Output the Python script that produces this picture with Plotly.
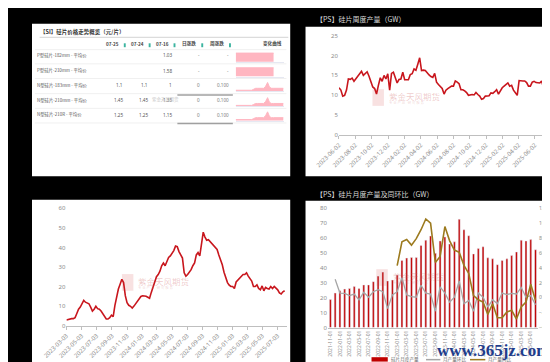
import plotly.graph_objects as go
import pandas as pd

W, H = 550, 362
def fx(p): return p / W
def fy(p): return 1 - p / H

# ---------------- data ----------------
# table: silicon wafer price overview
tbl_title = "【SI】硅片价格走势概览（元/片）"
tbl_headers = ["07-25", "07-24", "07-16", "日涨跌", "周涨跌", "变化曲线"]
tbl_rows = ["P型硅片-182mm - 平均价", "P型硅片-210mm - 平均价", "N型硅片-183mm - 平均价",
            "N型硅片-210mm - 平均价", "N型硅片-210R - 平均价"]
price_0725 = ["", "", "1.1", "1.45", "1.25"]
price_0724 = ["", "", "1.1", "1.45", "1.25"]
price_0716 = ["1.03", "1.58", "1", "1.35", "1.15"]
day_chg = ["-", "-", "0", "0", "0"]
week_chg = ["-", "-", "0.100", "0.100", "0.100"]

spark_p182 = [1.03, 1.03, 1.03, 1.03, 1.03, 1.03, 1.03, 1.03, 1.03, 1.03,
              1.03, 1.03, 1.03, 1.03, 1.03, 1.03, 1.03, 1.03, 1.03, 1.03]
spark_p210 = [1.58, 1.58, 1.58, 1.58, 1.58, 1.58, 1.58, 1.58, 1.58, 1.58,
              1.58, 1.58, 1.58, 1.58, 1.58, 1.58, 1.58, 1.58, 1.58, 1.58]
spark_n183 = [0.90, 0.90, 0.90, 0.90, 0.90, 0.90, 0.90, 0.90, 0.90, 0.95, 1.00, 1.00, 1.00,
              1.00, 1.00, 1.10, 1.30, 1.05, 1.00, 1.00, 1.00, 1.00, 1.00, 1.00, 1.00]
spark_n210 = [1.25, 1.25, 1.25, 1.25, 1.25, 1.25, 1.25, 1.25, 1.25, 1.30, 1.35, 1.35, 1.35,
              1.35, 1.35, 1.45, 1.65, 1.40, 1.35, 1.35, 1.35, 1.35, 1.35, 1.35, 1.35]
spark_n210r = [1.05, 1.05, 1.05, 1.05, 1.05, 1.05, 1.05, 1.05, 1.05, 1.10, 1.15, 1.15, 1.15,
               1.15, 1.15, 1.25, 1.45, 1.20, 1.15, 1.15, 1.15, 1.15, 1.15, 1.15, 1.15]
spark_ranges = [[0, 1.32], [0, 2.03], [0.85, 1.43], [1.20, 1.78], [1.00, 1.58]]

# weekly wafer output (GW), weekly from 2023-06-02
weekly_title = "【PS】硅片周度产量（GW）"
weekly_start = "2023-06-02"
weekly_output = [11.9, 11.3, 9.8, 10, 11.3, 14.1, 14, 14.3, 13.5, 14.1, 14.7, 15.1, 16, 15,
                 15.6, 15.9, 14.8, 13.3, 12.1, 11.7, 10.3, 12.5, 14.4, 13.5, 15, 14.1, 15.4,
                 11.3, 15.5, 15.8, 14.1, 13.1, 14, 14.1, 15.8, 13.9, 13.9, 13.9, 15.2, 15.4,
                 16.6, 16.3, 17.8, 19.4, 16.2, 16.3, 16.2, 15.5, 15.1, 14.7, 14.5, 15.5, 13.3,
                 12.7, 12.3, 11.7, 10.3, 11.3, 11.7, 12.1, 12.3, 12.3, 13.6, 13.3, 12.9, 11.4,
                 11.4, 11.1, 10.7, 10, 10.1, 10.2, 10.1, 10.7, 10.2, 9.8, 9, 9.2, 9.8, 9.8,
                 9.9, 10.6, 10.5, 10.9, 11.4, 10.3, 11.3, 11.9, 12.3, 12.7, 13.1, 12.3, 12.5,
                 11.3, 10.6, 10, 13.7, 13.6, 13.6, 13.6, 13.2, 12.3, 12.3, 13.3, 13.5, 13.2,
                 13.2, 13.1, 13.6, 11.9, 11.5, 11.3, 11.1]
weekly_ticks = ["2023-06-02", "2023-08-02", "2023-10-02", "2023-12-02", "2024-02-02",
                "2024-04-02", "2024-06-02", "2024-08-02", "2024-10-02", "2024-12-02",
                "2025-02-02", "2025-04-02", "2025-06-02"]

# weekly series, bottom-left, weekly from 2023-03-03
bl_start = "2023-03-03"
bl_values = [3, 3.2, 3.7, 3.7, 3.7, 4.2, 6.3, 8.5, 9.6, 11.8, 13, 12.1, 11.8, 11.3, 9.6, 7.6,
             8.5, 10, 8.8, 8.5, 7.6, 6.3, 5.1, 3.5, 3.5, 4.2, 5.5, 4.7, 10.5, 15.4, 18.8, 21.3,
             23.8, 22.1, 15.4, 11.8, 10.5, 10, 9.1, 10.1, 11.3, 12.1, 13.8, 15, 15.4, 15.4,
             15.1, 14.6, 14.1, 17.1, 19.9, 22.9, 25.1, 26.2, 27.9, 30.7, 32.1, 30.7, 33.4,
             34.9, 35.7, 37, 38.4, 40.7, 40.4, 37.9, 36.5, 34.6, 27.1, 25.4, 26.2, 27.4,
             28.7, 30.7, 32.1, 36.2, 37.4, 35.7, 41.2, 47.8, 45.3, 43.7, 44, 42.9, 42, 41.2,
             40, 39, 36.2, 34.1, 31.2, 27.4, 24.6, 22.1, 20.8, 20.1, 20.1, 19.1, 22.4, 23.4,
             24.1, 25.4, 26.2, 26.2, 27.1, 25.4, 24.1, 22.9, 20.1, 20.1, 20.9, 19.1, 18.4,
             20.4, 17.9, 19.6, 19.1, 18.8, 20.1, 19.1, 20.1, 19.3, 18.4, 16.8, 16.3, 17.4, 17.9]
bl_ticks = ["2023-03-03", "2023-05-03", "2023-07-03", "2023-09-03", "2023-11-03",
            "2024-01-03", "2024-03-03", "2024-05-03", "2024-07-03", "2024-09-03",
            "2024-11-03", "2025-01-03", "2025-03-03", "2025-05-03", "2025-07-03"]

# monthly wafer output (GW) and MoM / YoY (%)
monthly_title = "【PS】硅片月度产量及同环比（GW）"
month_start = "2021-11-01"
monthly_output = [18.8, 23.2, 24.7, 25.8, 26.2, 27.5, 26.2, 28.6, 28.6, 30.8, 34.5, 37.2,
                  31.3, 31.9, 35.2, 45, 46.6, 47, 47, 55.1, 58.6, 61.4, 49.8, 58.1, 60.8,
                  56, 57.5, 72.6, 65.6, 61.6, 49.4, 53.1, 54.2, 46.8, 46.1, 42.2, 45, 46.1,
                  48.3, 50.7, 58.6, 58.1, 59, 52.2]
mom_pct = [None, 24.7, 6.3, 5.9, 2.8, 5, -2.8, 7.2, 0.7, 8.1, 10.7, 8.1, -14.6, 3.7, 8.1,
           26.9, 3.7, 1.5, 0.7, 16.8, 6.3, 5, -18.1, 14.6, 6.3, -5.9, 0.7, 22.5, -8.1, -3.7,
           -18.1, 6.3, 0.7, -12.5, -2.8, -8.1, 6.3, 4.2, 5.9, 5, 13.8, 0.7, 2.8, -9.4]
yoy_pct = [None] * 14 + [43, 75, 78, 70.6, 79.3, 91.2, 105.6, 99.9, 47.4, 55.3, 95.5, 76.3,
                         64, 61, 43.5, 32.6, 2.8, -2.8, -5.9, -22.5, -8.1, -26.9, -26.9, -19,
                         -16.8, -28.6, -12.5, -5.9, 18.1, -3.7]
legend_names = ["硅片月度产量", "月产量环比", "月产量同比"]
watermark = "紫金天风期货"

# ---------------- derived categories ----------------
weekly_dates = pd.date_range(weekly_start, periods=len(weekly_output), freq="7D")
bl_dates = pd.date_range(bl_start, periods=len(bl_values), freq="7D")
months = [d.strftime("%Y-%m-%d") for d in pd.date_range(month_start, periods=len(monthly_output), freq="MS")]

RED = "#c8161d"
BAR = "#c00000"
GRAY = "#a6a6a6"
OLIVE = "#9c7a1e"
TICK = "#8c8c8c"
PINK = "#ffb6c1"
CJK = "Noto Sans CJK SC"

fig = go.Figure()

fig.add_trace(go.Scatter(x=weekly_dates, y=weekly_output, mode="lines",
                         line=dict(color=RED, width=1.6), xaxis="x", yaxis="y",
                         showlegend=False, hoverinfo="skip"))
fig.add_trace(go.Scatter(x=bl_dates, y=bl_values, mode="lines",
                         line=dict(color=RED, width=1.6), xaxis="x2", yaxis="y2",
                         showlegend=False, hoverinfo="skip"))
fig.add_trace(go.Bar(x=months, y=monthly_output, marker_color=BAR, xaxis="x3", yaxis="y3",
                     showlegend=False, hoverinfo="skip"))
fig.add_trace(go.Scatter(x=months, y=mom_pct, mode="lines", line=dict(color=GRAY, width=1.3),
                         xaxis="x3", yaxis="y4", showlegend=False, hoverinfo="skip"))
fig.add_trace(go.Scatter(x=months, y=yoy_pct, mode="lines", line=dict(color=OLIVE, width=1.6),
                         xaxis="x3", yaxis="y4", showlegend=False, hoverinfo="skip"))

sparks = [spark_p182, spark_p210, spark_n183, spark_n210, spark_n210r]
spark_rows_px = [(39.5, 51), (54.5, 66), (69.5, 81), (85, 96.5), (99.5, 111)]
for i, s in enumerate(sparks):
    n = i + 5
    fig.add_trace(go.Scatter(x=list(range(len(s))), y=s, mode="lines", fill="tozeroy",
                             fillcolor=PINK, line=dict(color=PINK, width=1),
                             xaxis=f"x{n}", yaxis=f"y{n}", showlegend=False, hoverinfo="skip"))

tickfont = dict(family="Noto Sans", size=6, color=TICK)
date_axis_common = dict(type="date", showline=True, linecolor="#bfbfbf", linewidth=1,
                        ticks="outside", ticklen=3, tickcolor="#bfbfbf", showgrid=False,
                        zeroline=False, tickangle=-45, tickfont=tickfont)
yax_common = dict(showgrid=False, zeroline=False, showline=False, ticks="")

layout = dict(
    width=W, height=H, margin=dict(l=0, r=0, t=0, b=0),
    paper_bgcolor="#000000", plot_bgcolor="rgba(0,0,0,0)", showlegend=False,
    bargap=0.6,
    xaxis=dict(domain=[fx(321), fx(541)], anchor="y", range=["2023-06-02", "2025-07-26"],
               tickvals=weekly_ticks, ticktext=weekly_ticks, **date_axis_common),
    yaxis=dict(domain=[fy(126), fy(24)], anchor="x", range=[0, 25], dtick=5,
               tickfont=tickfont, **yax_common),
    xaxis2=dict(domain=[fx(36), fx(267)], anchor="y2", range=["2023-03-03", "2025-08-12"],
                tickvals=bl_ticks, ticktext=bl_ticks, **date_axis_common),
    yaxis2=dict(domain=[fy(321), fy(200.7)], anchor="x2", range=[0, 60], dtick=10,
                tickfont=tickfont, **yax_common),
    xaxis3=dict(domain=[fx(309.5), fx(529)], anchor="y3", type="category",
                range=[-0.5, len(months) - 0.5], tickvals=months[::2], ticktext=months[::2],
                tickangle=-90, showline=True, linecolor="#bfbfbf", ticks="",
                tickfont=dict(family="Noto Sans", size=5, color=TICK), showgrid=False),
    yaxis3=dict(domain=[fy(322.7), fy(200.7)], anchor="x3", range=[0, 80], dtick=10,
                tickfont=tickfont, **yax_common),
    yaxis4=dict(overlaying="y3", anchor="x3", side="right", range=[-40, 120], dtick=20,
                ticksuffix="%", tickfont=dict(family="Noto Sans", size=5, color=TICK),
                **yax_common),
)
for i, (top, bot) in enumerate(spark_rows_px):
    n = i + 5
    layout[f"xaxis{n}"] = dict(domain=[fx(213), fx(263)], anchor=f"y{n}", range=[0, 24],
                               visible=True, showticklabels=False, showgrid=False,
                               zeroline=False, showline=True, linecolor="#e6e8f2", ticks="")
    layout[f"yaxis{n}"] = dict(domain=[fy(bot), fy(top)], anchor=f"x{n}", range=spark_ranges[i],
                               visible=False)
fig.update_layout(**layout)

shapes = []
def rect(x0, y0, x1, y1, color, layer="below"):
    shapes.append(dict(type="rect", xref="paper", yref="paper", x0=fx(x0), x1=fx(x1),
                       y0=fy(y1), y1=fy(y0), fillcolor=color, line=dict(width=0), layer=layer))
def hline(x0, x1, y, color, width=1, layer="below"):
    shapes.append(dict(type="line", xref="paper", yref="paper", x0=fx(x0), x1=fx(x1),
                       y0=fy(y), y1=fy(y), line=dict(color=color, width=width), layer=layer))

rect(0, 12, 270, 168, "white")
rect(286, 15, 540, 168, "white")
rect(0, 192, 270, 358, "white")
rect(286, 193, 540, 362, "white")

hline(8, 268, 26, "#dcdcdc", 1.2)
for y in [38.5, 53, 68, 83.5, 98.5, 113.5]:
    hline(3, 266, y, "#f0f0f0", 1)
hline(152, 210, 85, "#a0a0a0", 1.5, layer="above")
hline(152, 210, 114, "#a0a0a0", 1.5, layer="above")
for xi in [97, 123, 149, 178, 207]:
    rect(xi - 1, 32, xi + 1, 36, "#3cb4a0", layer="above")

annotations = []
def text(x, y, s, size, color, xanchor="left", family=CJK, bold=False):
    annotations.append(dict(x=fx(x), y=fy(y), xref="paper", yref="paper",
                            text=(f"<b>{s}</b>" if bold else s),
                            showarrow=False, xanchor=xanchor, yanchor="middle",
                            font=dict(family=family, size=size, color=color)))

text(6, 20, tbl_title, 5.5, "#333333", bold=True)
hdr_x = [93, 119, 145, 174, 203, 263]
for hx, h in zip(hdr_x, tbl_headers):
    text(hx, 32.5, h, 4.6, "#444444", xanchor="right", bold=True)
row_y = [44.3, 60, 75, 90, 105.3]
for ry, name, a, b, c, d, w in zip(row_y, tbl_rows, price_0725, price_0724, price_0716,
                                     day_chg, week_chg):
    text(3, ry, name, 4.4, "#555555")
    text(97, ry, a, 4.6, "#555555", xanchor="right", family="Noto Sans")
    text(123, ry, b, 4.6, "#555555", xanchor="right", family="Noto Sans")
    text(149, ry, c, 4.6, "#555555", xanchor="right", family="Noto Sans")
    text(178, ry, d, 4.6, "#777777", xanchor="right", family="Noto Sans")
    text(208, ry, w, 4.6, "#777777", xanchor="right", family="Noto Sans")
text(123, 89.5, watermark, 4.4, "#c8c8c8")

text(295, 7, weekly_title, 7, "#d9d9d9")
text(295, 186, monthly_title, 7, "#d9d9d9")

for (lx, ly) in [(368, 88), (106, 277), (372, 272)]:
    rect(lx - 12, ly - 9, lx, ly + 8, "rgba(215,90,90,0.18)")
    text(lx + 3, ly - 2, watermark, 8.5, "rgba(205,90,90,0.32)")
    text(lx + 3, ly + 5, "专 业 产 品   研 究 服 务", 3.5, "rgba(205,120,120,0.3)")

rect(355, 353, 372, 357.5, BAR, layer="above")
text(373, 355.5, legend_names[0], 4.6, "#666666")
hline(412, 427, 355.5, GRAY, 1.5, layer="above")
text(428, 355.5, legend_names[1], 4.6, "#666666")
hline(458, 474, 355.5, OLIVE, 1.5, layer="above")
text(475, 355.5, legend_names[2], 4.6, "#666666")

annotations.append(dict(x=fx(483), y=fy(346), xref="paper", yref="paper",
                        text="<b>www.365jz.com</b>", showarrow=False, xanchor="center",
                        yanchor="middle",
                        font=dict(family="Liberation Serif", size=17, color="#1f3d8c")))

fig.update_layout(shapes=shapes, annotations=annotations)
fig.write_html("out.html")
